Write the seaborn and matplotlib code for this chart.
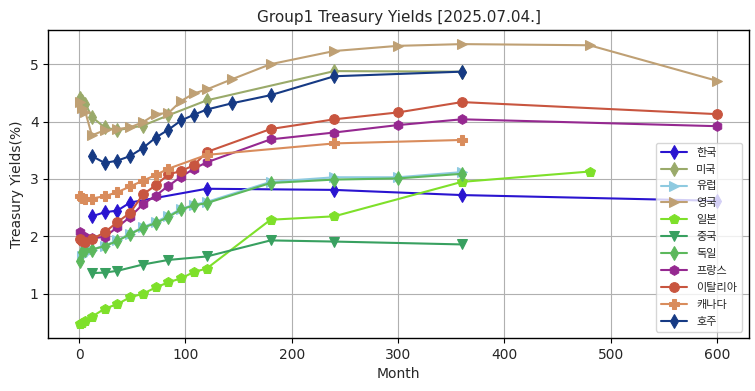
import matplotlib
matplotlib.use("Agg")
import matplotlib.pyplot as plt
import seaborn as sns
import pandas as pd

# months to maturity and yields (%) per country
kr_m = [12, 24, 36, 48, 120, 240, 360, 600]
kr_y = [2.35, 2.42, 2.45, 2.59, 2.83, 2.81, 2.72, 2.62]

us_m = [1, 3, 6, 12, 24, 36, 60, 84, 120, 240, 360]
us_y = [4.41, 4.36, 4.31, 4.08, 3.90, 3.85, 3.93, 4.11, 4.37, 4.88, 4.87]

eu_m = [3, 6, 12, 24, 36, 48, 60, 72, 84, 96, 108, 120, 180, 240, 300, 360]
eu_y = [1.65, 1.74, 1.77, 1.84, 1.93, 2.05, 2.16, 2.25, 2.36, 2.48, 2.55, 2.60, 2.95, 3.03, 3.03, 3.12]

uk_m = [1, 3, 6, 12, 24, 36, 48, 60, 72, 84, 96, 108, 120, 144, 180, 240, 300, 360, 480, 600]
uk_y = [4.35, 4.24, 4.16, 3.76, 3.85, 3.87, 3.90, 3.99, 4.13, 4.15, 4.36, 4.49, 4.56, 4.74, 5.00, 5.23, 5.32, 5.35, 5.33, 4.71]

jp_m = [1, 3, 6, 12, 24, 36, 48, 60, 72, 84, 96, 108, 120, 180, 240, 360, 480]
jp_y = [0.47, 0.49, 0.53, 0.60, 0.74, 0.82, 0.94, 1.00, 1.11, 1.20, 1.27, 1.38, 1.44, 2.29, 2.35, 2.95, 3.13]

cn_m = [12, 24, 36, 60, 84, 120, 180, 240, 360]
cn_y = [1.36, 1.37, 1.40, 1.51, 1.59, 1.65, 1.93, 1.91, 1.86]

de_m = [1, 3, 6, 12, 24, 36, 48, 60, 72, 84, 96, 108, 120, 180, 240, 300, 360]
de_y = [1.57, 1.72, 1.76, 1.77, 1.83, 1.92, 2.04, 2.15, 2.23, 2.34, 2.47, 2.54, 2.58, 2.93, 2.99, 3.01, 3.09]

fr_m = [1, 3, 6, 12, 24, 36, 48, 60, 72, 84, 96, 108, 120, 180, 240, 300, 360, 600]
fr_y = [2.07, 2.01, 1.99, 1.97, 1.99, 2.16, 2.34, 2.56, 2.71, 2.88, 3.04, 3.18, 3.29, 3.69, 3.81, 3.94, 4.04, 3.92]

it_m = [1, 3, 6, 12, 24, 36, 48, 60, 72, 84, 96, 108, 120, 180, 240, 300, 360, 600]
it_y = [1.96, 1.92, 1.91, 1.95, 2.07, 2.25, 2.41, 2.73, 2.89, 3.08, 3.14, 3.24, 3.47, 3.87, 4.04, 4.16, 4.34, 4.13]

ca_m = [1, 3, 6, 12, 24, 36, 48, 60, 72, 84, 120, 240, 360]
ca_y = [2.70, 2.67, 2.66, 2.66, 2.70, 2.77, 2.87, 2.97, 3.07, 3.18, 3.42, 3.62, 3.68]

au_m = [12, 24, 36, 48, 60, 72, 84, 96, 108, 120, 144, 180, 240, 360]
au_y = [3.40, 3.28, 3.32, 3.40, 3.54, 3.72, 3.86, 4.02, 4.12, 4.21, 4.32, 4.46, 4.79, 4.87]

countries = ['한국', '미국', '유럽', '영국', '일본', '중국', '독일', '프랑스', '이탈리아', '캐나다', '호주']
series = [(kr_m, kr_y), (us_m, us_y), (eu_m, eu_y), (uk_m, uk_y), (jp_m, jp_y), (cn_m, cn_y),
          (de_m, de_y), (fr_m, fr_y), (it_m, it_y), (ca_m, ca_y), (au_m, au_y)]
colors = ['#2a14d0', '#9aaa6a', '#8ecae0', '#bfa074', '#7ee02a', '#38a060',
          '#5cb85c', '#952890', '#c8553f', '#d98c5c', '#163a84']
markers = ['d', 'd', '>', '>', 'p', 'v', 'd', 'h', 'o', 'P', 'd']

sns.set_style("ticks")
plt.rcParams['font.family'] = ['DejaVu Sans', 'Noto Sans CJK KR']
plt.rcParams['axes.unicode_minus'] = False

fig, ax = plt.subplots(figsize=(7.55, 3.91), dpi=100)
fig.subplots_adjust(left=0.064, right=0.992, bottom=0.135, top=0.923)

for name, (m, y), c, mk in zip(countries, series, colors, markers):
    df = pd.DataFrame({'Month': m, 'Yield': y})
    sns.lineplot(data=df, x='Month', y='Yield', color=c, marker=mk, markersize=7,
                 markeredgecolor=c, linewidth=1.5, label=name, ax=ax)

ax.grid(True, color='#b0b0b0', linewidth=0.8)
for s in ax.spines.values():
    s.set_color('black')
    s.set_linewidth(1.0)
ax.tick_params(labelsize=10, color='black', length=3.5)
ax.set_title('Group1 Treasury Yields [2025.07.04.]', fontsize=11)
ax.set_xlabel('Month', fontsize=10)
ax.set_ylabel('Treasury Yields(%)', fontsize=10)
ax.legend(loc='lower right', fontsize=8, handlelength=2.4, borderpad=0.45,
          labelspacing=0.62, borderaxespad=0.6)

plt.savefig('out.png', dpi=100)
